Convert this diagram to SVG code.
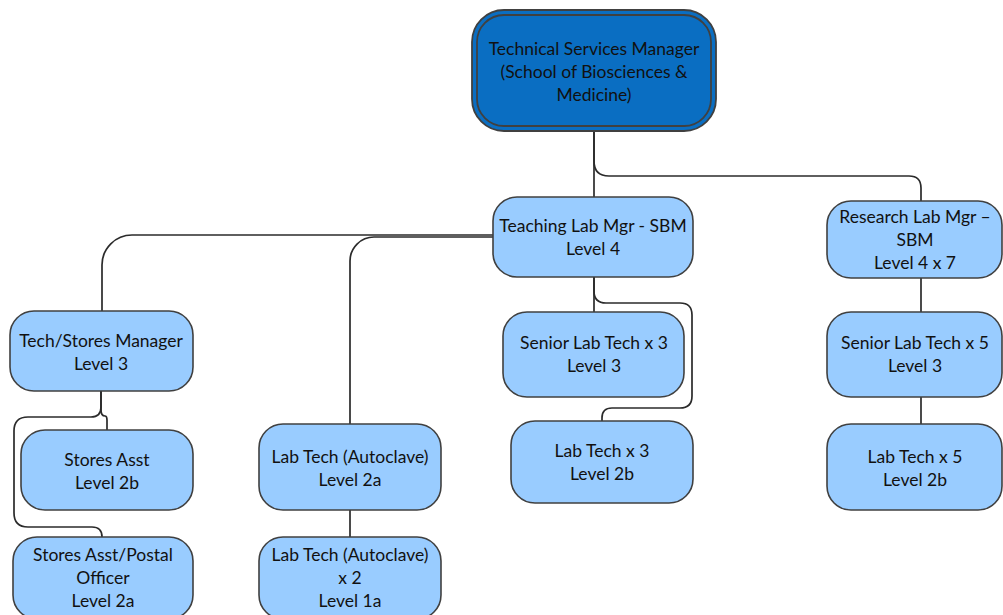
<svg xmlns="http://www.w3.org/2000/svg" width="1003" height="615" viewBox="0 0 1003 615">
<style>
.n{fill:#99CCFF;stroke:#404040;stroke-width:1.6}
.t{font-family:Lato,"Liberation Sans",sans-serif;font-size:17.5px;fill:#111;text-anchor:middle}
.c{fill:none;stroke:#2b2b2b;stroke-width:1.7}
</style>
<rect width="1003" height="615" fill="#fff"/>
<g id="connectors">
<path class="c" d="M594,131 V161 Q594,176 609,176 H909 Q921,176 921,188 V201"/>
<path class="c" d="M594,131 V197"/>
<path class="c" d="M493,235 H132 A30,30 0 0 0 102,265 V311"/>
<path class="c" d="M493,237 H374 A24,24 0 0 0 350,261 V424"/>
<path class="c" d="M594,277 V312"/>
<path class="c" d="M594,277 V291 Q594,303 606,303 H680 Q692,303 692,315 V396 Q692,408 680,408 H612 Q602,408 602,418 V421"/>
<path class="c" d="M921,278 V312"/>
<path class="c" d="M921,397 V424"/>
<path class="c" d="M350,510 V537"/>
<path class="c" d="M101,391 V410 Q101,416 105,416 Q107,416 107,420 V430"/>
<path class="c" d="M101,391 V407 Q101,417 91,417 H28 Q14,417 14,431 V513 Q14,527 28,527 H92 Q102,527 102,537"/>
</g>
<g id="tsm">
<rect x="472" y="10" width="244" height="121" rx="32" fill="#0A6EC2" stroke="#404040" stroke-width="1.8"/>
<rect x="477" y="15" width="234" height="111" rx="27" fill="none" stroke="#404040" stroke-width="1.8"/>
<text class="t" x="594" y="55">Technical Services Manager</text>
<text class="t" x="594" y="78">(School of Biosciences &amp;</text>
<text class="t" x="594" y="101">Medicine)</text>
</g>
<g id="teaching">
<rect class="n" x="493" y="197" width="200" height="80" rx="24"/>
<text class="t" x="593" y="232">Teaching Lab Mgr - SBM</text>
<text class="t" x="593" y="255">Level 4</text>
</g>
<g id="research">
<rect class="n" x="827" y="201" width="175" height="77" rx="24"/>
<text class="t" x="915" y="223">Research Lab Mgr –</text>
<text class="t" x="915" y="246">SBM</text>
<text class="t" x="915" y="269">Level 4 x 7</text>
</g>
<g id="techstores">
<rect class="n" x="10" y="311" width="183" height="80" rx="24"/>
<text class="t" x="101" y="347">Tech/Stores Manager</text>
<text class="t" x="101" y="370">Level 3</text>
</g>
<g id="senior3">
<rect class="n" x="503" y="312" width="181" height="85" rx="24"/>
<text class="t" x="594" y="349">Senior Lab Tech x 3</text>
<text class="t" x="594" y="372">Level 3</text>
</g>
<g id="senior5">
<rect class="n" x="827" y="312" width="175" height="85" rx="24"/>
<text class="t" x="915" y="349">Senior Lab Tech x 5</text>
<text class="t" x="915" y="372">Level 3</text>
</g>
<g id="storesasst">
<rect class="n" x="21" y="430" width="172" height="80" rx="24"/>
<text class="t" x="107" y="466">Stores Asst</text>
<text class="t" x="107" y="489">Level 2b</text>
</g>
<g id="autoclave">
<rect class="n" x="259" y="424" width="182" height="86" rx="24"/>
<text class="t" x="350" y="463">Lab Tech (Autoclave)</text>
<text class="t" x="350" y="486">Level 2a</text>
</g>
<g id="labtech3">
<rect class="n" x="511" y="421" width="182" height="82" rx="24"/>
<text class="t" x="602" y="457">Lab Tech x 3</text>
<text class="t" x="602" y="480">Level 2b</text>
</g>
<g id="labtech5">
<rect class="n" x="827" y="424" width="175" height="86" rx="24"/>
<text class="t" x="915" y="463">Lab Tech x 5</text>
<text class="t" x="915" y="486">Level 2b</text>
</g>
<g id="postal">
<rect class="n" x="13" y="537" width="180" height="82" rx="24"/>
<text class="t" x="103" y="561">Stores Asst/Postal</text>
<text class="t" x="103" y="584">Officer</text>
<text class="t" x="103" y="607">Level 2a</text>
</g>
<g id="autoclave2">
<rect class="n" x="259" y="537" width="182" height="82" rx="24"/>
<text class="t" x="350" y="561">Lab Tech (Autoclave)</text>
<text class="t" x="350" y="584">x 2</text>
<text class="t" x="350" y="607">Level 1a</text>
</g>
</svg>
